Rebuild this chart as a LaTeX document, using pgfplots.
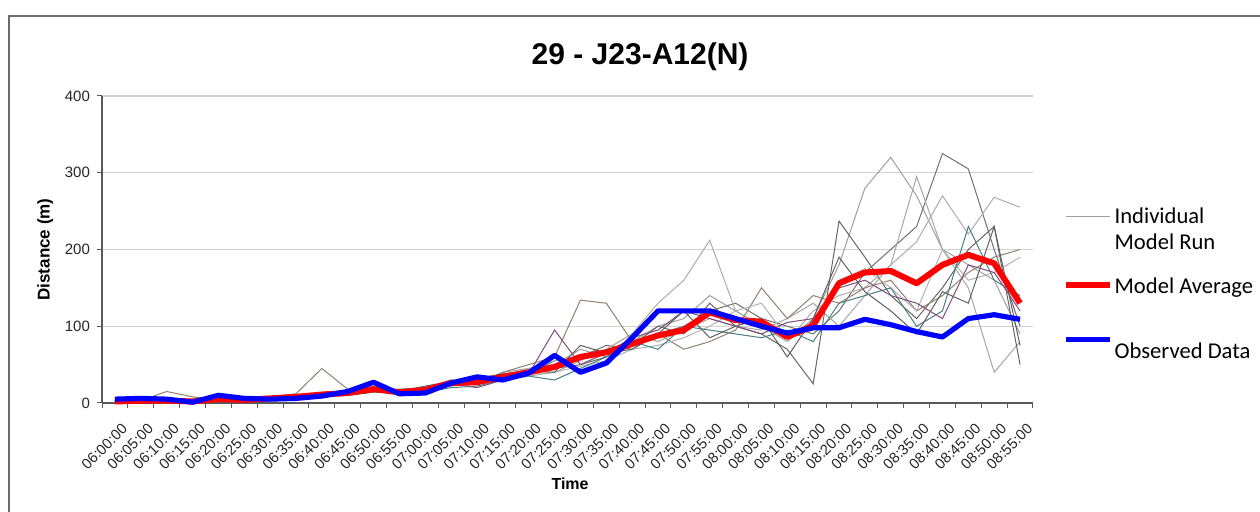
\documentclass[border=0pt]{standalone}
\usepackage{pgfplots}
\pgfplotsset{compat=1.18}
\usepackage{pgfplotstable}
\usepackage{fontspec}
\setmainfont{Liberation Sans}
\newfontfamily\carlito{Carlito}

\pgfplotstableread{
x A B C D E F G H I J avg obs
0 3 2 1 2 4 2 1 3 2 1 2 5
1 2 4 3 2 3 3 2 4 2 3 3 6
2 4 2 3 3 2 15 3 2 3 2 3 5
3 1 2 2 1 2 8 3 2 2 1 2 1
4 6 5 4 5 6 4 4 5 5 5 5 10
5 3 6 2 4 5 3 5 4 3 5 4 6
6 5 8 5 6 6 8 4 7 4 6 6 5
7 10 6 8 7 9 12 6 6 6 8 8 6
8 12 10 8 14 10 45 12 8 8 12 11 9
9 15 12 14 12 15 18 10 10 12 14 13 15
10 20 15 18 20 22 25 15 14 16 18 18 27
11 12 18 10 15 16 12 16 15 12 15 14 12
12 18 20 15 12 20 20 18 14 15 22 17 13
13 30 22 25 28 25 30 22 20 25 28 26 26
14 25 30 28 30 28 25 30 22 20 32 27 34
15 40 28 30 36 35 40 32 30 30 38 34 30
16 45 38 35 40 45 50 38 35 38 42 40 39
17 50 55 40 45 55 60 40 30 95 40 47 62
18 70 60 55 50 62 134 48 45 50 75 60 40
19 60 75 70 60 70 130 55 60 65 65 66 52
20 80 70 90 75 90 80 70 80 85 70 77 85
21 100 90 80 100 130 90 75 70 95 90 88 120
22 110 100 95 90 160 70 85 100 120 120 95 120
23 140 120 110 130 212 80 100 95 110 85 118 120
24 120 130 100 100 120 95 120 90 100 100 108 110
25 100 110 95 90 100 150 130 85 90 110 106 100
26 80 100 110 70 80 110 85 95 105 60 86 91
27 110 90 130 25 120 140 95 80 110 110 101 98
28 180 120 100 237 140 130 160 130 150 190 156 98
29 280 170 140 190 150 150 175 140 160 145 170 109
30 320 200 180 140 180 160 150 150 140 120 172 102
31 270 230 295 110 210 120 120 100 130 90 156 93
32 200 325 200 150 270 140 200 120 110 145 180 86
33 180 305 150 200 220 170 160 230 180 130 193 110
34 160 200 40 230 268 190 170 160 170 230 182 115
35 90 100 80 50 255 200 190 140 120 75 130 109
}\datatable

\begin{document}
\begin{tikzpicture}
\useasboundingbox (0,0) rectangle (630pt,256pt);
\draw[gray!85!black, line width=1pt] (4.5pt,-20pt) -- (4.5pt,248pt) -- (650pt,248pt);
\begin{axis}[
  at={(51pt,54.5pt)}, anchor=south west,
  scale only axis, width=465.5pt, height=153.5pt,
  xmin=-0.5, xmax=35.5, ymin=0, ymax=400,
  axis x line*=bottom, axis y line*=left,
  axis line style={gray!70!black, line width=0.6pt, -},
  /pgf/number format/assume math mode=true,
  xtick={0,...,35},
  xticklabels={06:00:00,06:05:00,06:10:00,06:15:00,06:20:00,06:25:00,06:30:00,06:35:00,06:40:00,06:45:00,06:50:00,06:55:00,07:00:00,07:05:00,07:10:00,07:15:00,07:20:00,07:25:00,07:30:00,07:35:00,07:40:00,07:45:00,07:50:00,07:55:00,08:00:00,08:05:00,08:10:00,08:15:00,08:20:00,08:25:00,08:30:00,08:35:00,08:40:00,08:45:00,08:50:00,08:55:00},
  major x tick style={draw=none},
  minor xtick={-0.5,0.5,...,35.5},
  minor x tick style={gray!70!black, line width=0.5pt},
  ytick={0,100,200,300,400},
  y tick style={gray!70!black, line width=0.5pt},
  tick align=outside, major tick length=2.5pt, minor tick length=2.5pt,
  ymajorgrids, grid style={gray!35, line width=0.6pt},
  xticklabel style={xshift=5pt, yshift=-9pt, rotate=45, anchor=east, font=\fontsize{7.4}{8}\selectfont, text=black!85, inner sep=0pt},
  yticklabel style={font=\fontsize{7.5}{8}\selectfont, text=black!85},
  xlabel={\textbf{Time}}, ylabel={\textbf{Distance (m)}},
  every axis x label/.style={at={(axis cs:17.6,0)}, anchor=center, yshift=-40.5pt, font=\fontsize{8}{9}\selectfont},
  every axis y label/.style={at={(axis description cs:-0.061,0.5)}, anchor=center, rotate=90, font=\fontsize{8.5}{10}\selectfont},
  title={\textbf{29 - J23-A12(N)}},
  title style={font=\fontsize{15}{17}\selectfont, at={(0.578,1)}, yshift=3pt},
  clip=false,
  legend style={at={(1.025,0.655)}, anchor=north west, draw=none, fill=none,
    font=\carlito\fontsize{11.3}{13}\selectfont, row sep=8pt,
    nodes={align=left, inner sep=1pt}},
  legend cell align=left,
  legend image code/.code={\draw[#1] (0pt,0pt) -- (22pt,0pt);},
]
\addplot[gray!75, line width=0.5pt, legend image post style={yshift=7pt}] table[x=x,y=A] {\datatable};
\addlegendentry{Individual\\Model Run}
\addplot[gray!60!black!80, line width=0.5pt, forget plot] table[x=x,y=B] {\datatable};
\addplot[gray!70, line width=0.5pt, forget plot] table[x=x,y=C] {\datatable};
\addplot[gray!80!black, line width=0.5pt, forget plot] table[x=x,y=D] {\datatable};
\addplot[gray!65, line width=0.5pt, forget plot] table[x=x,y=E] {\datatable};
\addplot[gray!70!brown, line width=0.5pt, forget plot] table[x=x,y=F] {\datatable};
\addplot[gray!60, line width=0.5pt, forget plot] table[x=x,y=G] {\datatable};
\addplot[gray!55!teal, line width=0.5pt, forget plot] table[x=x,y=H] {\datatable};
\addplot[gray!60!violet, line width=0.5pt, forget plot] table[x=x,y=I] {\datatable};
\addplot[gray!75!black, line width=0.5pt, forget plot] table[x=x,y=J] {\datatable};
\addplot[red, line width=3pt, line join=round] table[x=x,y=avg] {\datatable};
\addlegendentry{\rule{0pt}{10.5pt}Model Average}
\addplot[blue, line width=2.6pt, line join=round] table[x=x,y=obs] {\datatable};
\addlegendentry{\rule{0pt}{21pt}Observed Data}
\end{axis}
\end{tikzpicture}
\end{document}
